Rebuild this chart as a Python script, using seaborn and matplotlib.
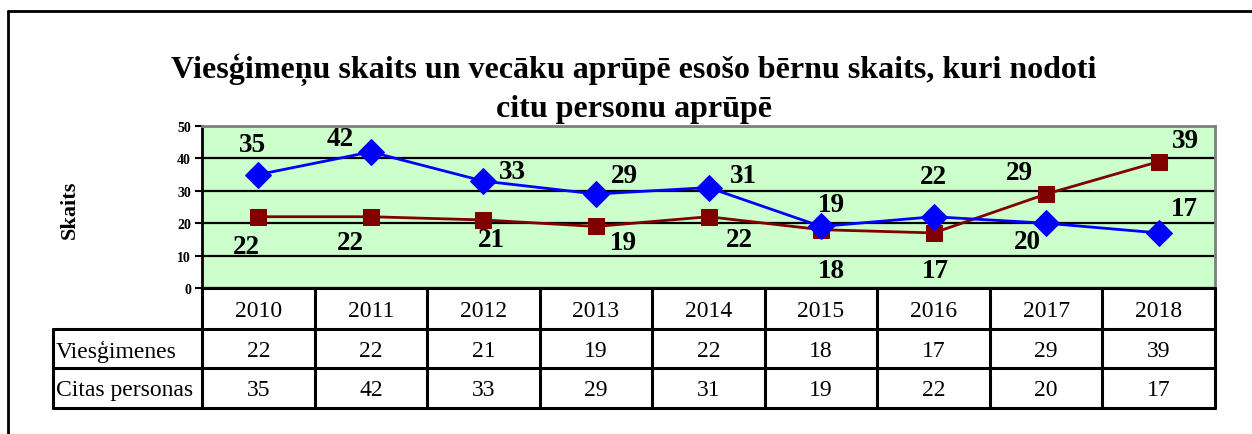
import matplotlib
matplotlib.use("Agg")
import matplotlib.pyplot as plt
import seaborn as sns
import pandas as pd
from matplotlib.lines import Line2D

years = [2010, 2011, 2012, 2013, 2014, 2015, 2016, 2017, 2018]
viesgimenes = [22, 22, 21, 19, 22, 18, 17, 29, 39]
citas_personas = [35, 42, 33, 29, 31, 19, 22, 20, 17]
series_names = ["Viesģimenes", "Citas personas"]
title_lines = ["Viesģimeņu skaits un vecāku aprūpē esošo bērnu skaits, kuri nodoti",
               "citu personu aprūpē"]
ylabel = "Skaits"
yticks = [0, 10, 20, 30, 40, 50]

# label offsets in pixels (layout only)
off_red = [(-12, -30), (-20, -26), (8, -20), (27, -16), (31, -23), (10, -41), (2, -38), (-27, 22), (27, 21)]
off_blue = [(-6, 30), (-31, 13), (29, 10), (28, 19), (35, 12), (10, 22), (0, 40), (-19, -18), (26, 24)]

sns.set_style("white")
plt.rcParams["font.family"] = ["Liberation Serif", "DejaVu Serif"]
plt.rcParams["text.color"] = "black"
plt.rcParams["axes.labelcolor"] = "black"
plt.rcParams["ytick.color"] = "black"
plt.rcParams["xtick.color"] = "black"

W, H = 1252, 435
fig = plt.figure(figsize=(W / 100, H / 100), dpi=100)
fig.patch.set_facecolor("white")

def fx(x):
    return x / W

def fy(y):
    return 1 - y / H

L, R, T, B = 202, 1215, 127, 289
ax = fig.add_axes([fx(L), fy(B), (R - L) / W, (B - T) / H])
ax.set_facecolor("#CCFFCC")

df_red = pd.DataFrame({"year": years, "value": viesgimenes})
df_blue = pd.DataFrame({"year": years, "value": citas_personas})
sns.lineplot(data=df_red, x="year", y="value", ax=ax, color="#800000", marker="s",
             markersize=11, markeredgecolor="#800000", linewidth=2, zorder=3)
sns.lineplot(data=df_blue, x="year", y="value", ax=ax, color="#0000FF", marker="D",
             markersize=13, markeredgecolor="#0000FF", linewidth=2, zorder=4)

for xv, yv, (dx, dy) in zip(years, viesgimenes, off_red):
    ax.annotate(str(yv), (xv, yv), xytext=(dx, dy), textcoords="offset pixels",
                ha="center", va="center", fontsize=19.5, fontweight="bold", color="black", zorder=5)
for xv, yv, (dx, dy) in zip(years, citas_personas, off_blue):
    ax.annotate(str(yv), (xv, yv), xytext=(dx, dy), textcoords="offset pixels",
                ha="center", va="center", fontsize=19.5, fontweight="bold", color="black", zorder=5)

ax.set_xlim(years[0] - 0.5, years[-1] + 0.5)
ax.set_ylim(0, 50)
ax.set_yticks(yticks)
ax.set_yticklabels([str(t) for t in yticks], fontsize=10, fontweight="bold")
ax.set_xticks([])
ax.set_xlabel("")
ax.set_ylabel("")
ax.grid(axis="y", color="black", linewidth=1.6)
ax.set_axisbelow(True)
ax.tick_params(axis="y", direction="out", length=5, width=1.5, color="black", pad=3, left=True)
for s in ["top", "right"]:
    ax.spines[s].set_color("#808080")
    ax.spines[s].set_linewidth(2)
ax.spines["left"].set_color("black")
ax.spines["left"].set_linewidth(2)
ax.spines["bottom"].set_visible(False)

fig.text(fx(634), fy(70), title_lines[0], ha="center", va="center", fontsize=23,
         fontweight="bold", color="black")
fig.text(fx(634), fy(110), title_lines[1], ha="center", va="center", fontsize=23,
         fontweight="bold", color="black")
fig.text(fx(70), fy(210), ylabel, ha="center", va="center", rotation=90,
         fontsize=16, fontweight="bold", color="black")

# outer frame
def fline(x0, y0, x1, y1, lw=2, color="black"):
    fig.add_artist(Line2D([fx(x0), fx(x1)], [fy(y0), fy(y1)], color=color, linewidth=lw,
                          transform=fig.transFigure))

fline(8, 12, W, 12, lw=2)
fline(8, 12, 8, H, lw=2)

# data table
rows_y = [289, 330, 369, 409]
tl = 53
colw = (R - L) / len(years)
fline(L, rows_y[0], R, rows_y[0], lw=2.2)
for yy in rows_y[1:]:
    fline(tl, yy, R, yy, lw=2.2)
fline(tl, rows_y[1], tl, rows_y[3], lw=2.2)
for i in range(len(years) + 1):
    xx = L + i * colw
    fline(xx, rows_y[0], xx, rows_y[3], lw=2.2)

fs_tab = 17
dy = 2
for i, yr in enumerate(years):
    cx = L + (i + 0.5) * colw
    fig.text(fx(cx), fy((rows_y[0] + rows_y[1]) / 2 + dy), str(yr), ha="center", va="center", fontsize=fs_tab)
    fig.text(fx(cx), fy((rows_y[1] + rows_y[2]) / 2 + dy), str(viesgimenes[i]), ha="center", va="center", fontsize=fs_tab)
    fig.text(fx(cx), fy((rows_y[2] + rows_y[3]) / 2 + dy), str(citas_personas[i]), ha="center", va="center", fontsize=fs_tab)

fig.text(fx(tl + 3), fy((rows_y[1] + rows_y[2]) / 2 + dy), series_names[0], ha="left", va="center", fontsize=fs_tab)
fig.text(fx(tl + 3), fy((rows_y[2] + rows_y[3]) / 2 + dy), series_names[1], ha="left", va="center", fontsize=fs_tab)

fig.savefig("out.png", dpi=100)
